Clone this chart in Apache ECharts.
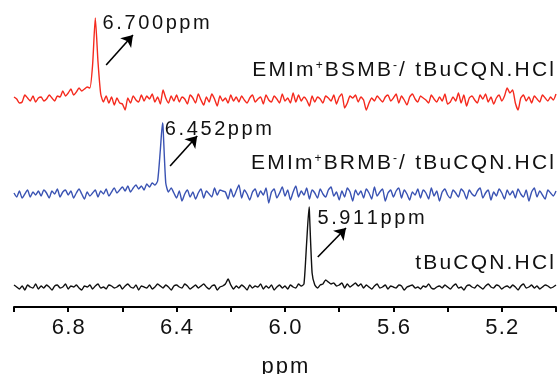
<!DOCTYPE html>
<html>
<head>
<meta charset="utf-8">
<script src="https://cdn.jsdelivr.net/npm/echarts@6/dist/echarts.min.js"></script>
<style>
  html, body { margin: 0; padding: 0; background: #fff; }
  #chart { width: 559px; height: 374px; }
</style>
</head>
<body>
<div id="chart"></div>
<script>
// 1H NMR spectra, 7.00 -> 5.00 ppm, sampled every 0.01 ppm
const ppmStart = 7.0;
const ppmStep = 0.01;
const pointCount = 201;

const tickLabels = ['6.8', '6.4', '6.0', '5.6', '5.2'];

// EMIm+BSMB- / tBuCQN.HCl (red trace), intensities on the 0.01 ppm grid
const bsmbValues = [
  3, 1, -3, -2, 5, 2, -1, 4, -2, 2,
  3, -1, 1, 5, 2, -1, 4, 3, 9, 4,
  7, 11, 5, 8, 12, 9, 11, 13, 12, 35,
  82, 38, 6, -2, 4, -3, 3, -5, 2, -3,
  -4, -10, 2, -3, 4, 0, -2, 5, -1, 4,
  1, 6, -2, 3, -4, 10, 2, -3, 4, -1,
  5, -2, 3, 1, -4, 5, 2, -3, 6, 0,
  -5, 3, -2, 6, 1, -6, 4, -1, 2, -3,
  5, -1, 3, -2, 4, 0, -3, 2, 5, -2,
  1, 3, -4, 5, 0, -2, 4, 1, -3, 6,
  -1, 2, -3, 7, -2, 5, -1, 3, 0, -6,
  4, -2, 3, 1, -3, 4, 2, -1, 5, -4,
  3, 6, -8, -3, 4, 2, 5, -2, 3, 0,
  -10, -3, 2, -1, 4, 1, -2, 3, 5, -1,
  2, 6, -3, 4, 0, -5, 3, 6, 1, -2,
  4, 2, 0, -3, 5, 1, -2, 3, -1, 6,
  -4, -2, 3, -1, 7, -3, 5, -6, 2, 4,
  0, -3, 5, 1, 6, -2, 3, -4, 2, 5,
  -1, 4, 12, 7, 10, -3, -10, 2, 5, -1,
  3, -3, 4, 1, -2, 5, 2, -1, 3, 0, 6
];

// EMIm+BRMB- / tBuCQN.HCl (blue trace)
const brmbValues = [
  2, -2, 4, -3, 1, 5, -2, 3, 0, 4,
  -1, 5, 2, -3, 4, 1, 6, -2, 3, 5,
  0, 4, -3, 2, 6, 1, -4, 3, -1, 2,
  5, -2, 4, 1, 6, -1, 3, 7, 2, 5,
  8, 4, 9, 3, 7, 10, 6, 9, 5, 11,
  8, 12, 10, 14, 45, 68, 12, 3, 7, 2,
  -3, 4, -6, 1, 5, -2, 3, -4, 2, 6,
  -3, 4, 1, -2, 7, 0, 5, 4, 3, -4,
  6, -2, 4, 10, -3, 5, 1, -5, 3, 6,
  -2, 4, 0, 7, -8, 3, 6, -3, 2, 8,
  -1, 5, -5, 3, 9, -2, 4, 0, 7, -4,
  5, 2, -3, 6, 1, -2, 5, 8, -1, 3,
  -5, 4, -2, 7, 3, -6, 5, 0, 4, -3,
  6, 2, -4, 8, -1, 3, 6, -6, 2, 5,
  -2, 4, 7, -3, 5, 1, -5, 3, 0, 6,
  -3, 5, 2, -4, 7, -1, 4, -6, 3, 6,
  0, -3, 5, 2, -2, 6, 3, -4, 5, 1,
  -1, 4, 7, -3, 2, 5, -5, 3, -1, 6,
  2, -4, 5, 0, 4, -3, 6, 1, -2, 5,
  -6, 3, 7, -2, 4, 0, -4, 5, 2, -1, 4
];

// tBuCQN.HCl (black trace)
const hclValues = [
  2, 0, -2, 1, -3, 2, 0, -1, 3, -2,
  1, -1, 2, 0, -3, 1, 2, -1, 0, 3,
  -2, 1, 0, 2, -1, -3, 1, 0, 2, -2,
  1, 3, -1, 0, -2, 2, 1, -1, 0, 2,
  -2, 1, 3, 0, -1, 2, -3, 1, 0, -1,
  2, -2, 0, 3, 1, -1, 2, 0, -3, 1,
  2, 0, -1, 3, 1, -2, 0, 2, -1, 1,
  3, 0, -2, 1, 2, -3, 0, 1, 3, 8,
  2, -2, 1, -1, 2, 0, -3, 2, -1, 1,
  0, 3, -2, 1, -1, 2, -3, 0, 2, -1,
  1, -2, 2, 0, -1, 3, 1, 3, 45, 76,
  14, 2, -1, 2, 3, 7, 5, 3, 4, 1,
  2, 4, -1, 3, 0, 2, 4, 1, 3, -1,
  2, 0, -2, 1, 3, -1, 0, 2, -2, 1,
  0, -1, 2, 1, -3, 0, 1, 2, -1, 0,
  -2, 1, 0, 3, -1, -2, 0, 1, -1, 2,
  0, -2, 1, 3, -1, 0, -3, 1, 2, 0,
  -1, 2, 0, -2, 1, 3, 0, -1, 2, 1,
  -2, 0, 1, -1, 2, 0, -3, 1, 3, -1,
  0, 2, -1, 1, -2, 0, 2, 1, -1, 0, 2
];

// peak maxima
const peakPpm = [6.700, 6.452, 5.911];
const peakHeight = [82, 72, 80];

// ---- drawing ----
const FONT = 'Liberation Sans, Arial, Helvetica, sans-serif';
const traces = [
  { values: bsmbValues, color: '#f52a1e', base: 207,
    labelOffset: [6, 5], arrowFrom: [-0.040, 35], arrowTo: [-0.139, 65],
    name: ['EMIm', '+', 'BSMB', '-', '/ tBuCQN.HCl'], nameTop: 60 },
  { values: brmbValues, color: '#3a53b3', base: 112,
    labelOffset: [1, 6], arrowFrom: [-0.028, 29], arrowTo: [-0.128, 59],
    name: ['EMIm', '+', 'BRMB', '-', '/ tBuCQN.HCl'], nameTop: 153 },
  { values: hclValues, color: '#111111', base: 20,
    labelOffset: [7, 11], arrowFrom: [-0.032, 30], arrowTo: [-0.136, 59],
    name: ['tBuCQN.HCl'], nameTop: 253 }
];

const ppmGrid = [];
for (let i = 0; i < pointCount; i++) {
  ppmGrid.push(+(ppmStart - i * ppmStep).toFixed(3));
}

// wraps each character in its own rich token so the text gets tracking
function spaced(str, style) {
  return str.split('').map(c => '{' + style + '|' + c + '}').join('');
}

function buildData(values, base, pPpm, pHeight) {
  const pts = [];
  ppmGrid.forEach((p, i) => {
    if (Math.abs(p - pPpm) > 1e-6) pts.push([p, base + values[i]]);
  });
  pts.push([pPpm, base + pHeight]);
  pts.sort((a, b) => b[0] - a[0]);
  return pts;
}

const series = traces.map((t, k) => ({
  type: 'line',
  data: buildData(t.values, t.base, peakPpm[k], peakHeight[k]),
  showSymbol: false,
  symbol: 'none',
  smooth: 0.2,
  silent: true,
  lineStyle: { color: t.color, width: 1.4 },
  markPoint: {
    silent: true,
    symbol: 'circle',
    symbolSize: 0,
    data: [{ coord: [peakPpm[k], t.base + peakHeight[k]] }],
    label: {
      show: true,
      position: 'right',
      distance: 0,
      offset: t.labelOffset,
      formatter: () => spaced(peakPpm[k].toFixed(3) + 'ppm', 'p'),
      rich: {
        p: { fontSize: 20, fontFamily: FONT, color: '#111', padding: [0, 1.3, 0, 1.3] }
      }
    }
  },
  markLine: {
    silent: true,
    symbol: ['none', 'arrow'],
    symbolSize: 11,
    label: { show: false },
    itemStyle: { color: '#000' },
    lineStyle: { color: '#000', width: 1.6, type: 'solid' },
    emphasis: { disabled: true },
    data: [[
      { coord: [peakPpm[k] + t.arrowFrom[0], t.base + t.arrowFrom[1]] },
      { coord: [peakPpm[k] + t.arrowTo[0], t.base + t.arrowTo[1]] }
    ]]
  }
}));

function nameText(parts) {
  let s = '';
  parts.forEach((part, i) => {
    if (i % 2 === 1) s += '{sup|' + part + '}';
    else s += spaced(part, 'n');
  });
  return s;
}

const graphic = traces.map(t => ({
  type: 'text',
  right: 5,
  top: t.nameTop,
  silent: true,
  style: {
    text: nameText(t.name),
    rich: {
      n: { fontSize: 21, fontFamily: FONT, fill: '#111', color: '#111', padding: [0, 1.1, 0, 1.1] },
      sup: { fontSize: 12, fontFamily: FONT, fill: '#111', color: '#111', verticalAlign: 'top', padding: [0, 1, 0, 1] }
    }
  }
}));

const chart = echarts.init(document.getElementById('chart'), null, { renderer: 'canvas' });
chart.setOption({
  animation: false,
  backgroundColor: '#fff',
  grid: { left: 14, right: 3, top: 0, bottom: 67, containLabel: false, outerBoundsMode: 'none' },
  xAxis: {
    type: 'value',
    min: 5.0,
    max: 7.0,
    interval: 0.2,
    inverse: true,
    name: spaced('ppm', 'a'),
    nameLocation: 'middle',
    nameGap: 49,
    nameMoveOverlap: false,
    nameTextStyle: {
      rich: { a: { fontSize: 22, fontFamily: FONT, color: '#111', padding: [0, 1, 0, 1] } }
    },
    axisLine: { show: true, onZero: false, lineStyle: { color: '#000', width: 2 } },
    axisTick: { show: true, inside: false, length: 5, lineStyle: { color: '#000', width: 2 } },
    splitLine: { show: false },
    axisLabel: {
      margin: 10,
      formatter: v => {
        const s = v.toFixed(1);
        return tickLabels.includes(s) ? spaced(s, 'd') : '';
      },
      rich: { d: { fontSize: 22, fontFamily: FONT, color: '#111', padding: [0, 0.6, 0, 0.6] } }
    }
  },
  yAxis: {
    type: 'value',
    min: 0,
    max: 307,
    show: false
  },
  graphic: graphic,
  series: series
});
</script>
</body>
</html>
